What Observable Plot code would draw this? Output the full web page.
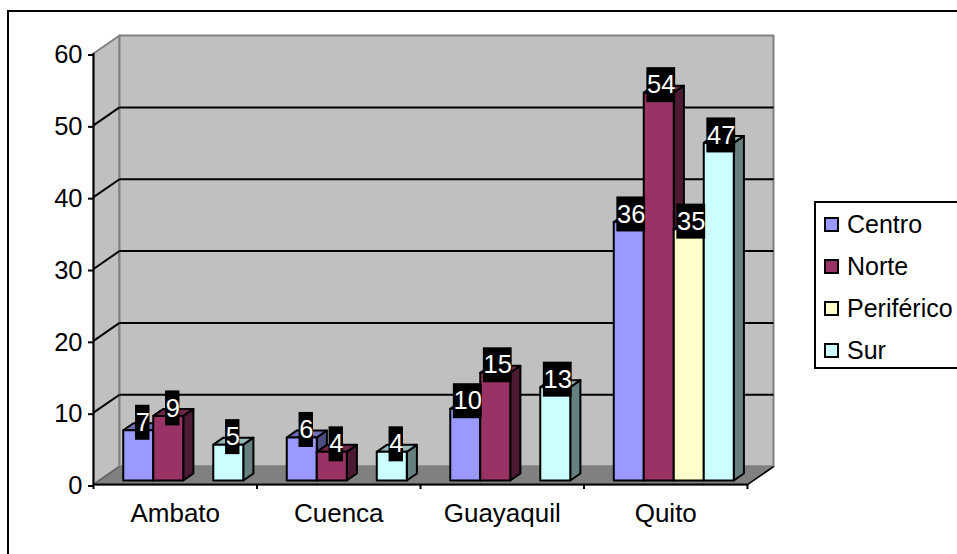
<!DOCTYPE html>
<html lang="es">
<head>
<meta charset="utf-8">
<script src="https://cdn.jsdelivr.net/npm/d3@7"></script>
<script src="https://cdn.jsdelivr.net/npm/@observablehq/plot@0.6"></script>
<style>
  html, body { margin: 0; padding: 0; background: #fff; overflow: hidden; }
  #page { position: relative; width: 957px; height: 554px; overflow: hidden; font-family: "Liberation Sans", Arial, sans-serif; color: #000; }
  #page svg { position: absolute; left: 0; top: 0; }
  #outline { position: absolute; left: 7px; top: 10px; width: 1000px; height: 600px; border: 2px solid #000; box-sizing: border-box; pointer-events: none; }
  #legend { position: absolute; left: 814px; top: 201px; width: 200px; height: 168px; border: 2px solid #000; box-sizing: border-box; background: #fff; }
  #legend .row { position: absolute; left: 0; height: 42px; display: flex; align-items: center; font-size: 25px; line-height: 1; white-space: nowrap; }
  #legend .swatch { display: inline-block; width: 15px; height: 15px; margin: 0 8px 0 8px; border: 2px solid #000; box-sizing: border-box; }
</style>
</head>
<body>
<div id="page">
  <div id="outline"></div>
  <div id="legend"></div>
</div>
<script>
// Survey counts per city and zone
const categories = ["Ambato", "Cuenca", "Guayaquil", "Quito"];
const centro = [7, 6, 10, 36];
const norte = [9, 4, 15, 54];
const periferico = [null, null, null, 35];
const sur = [5, 4, 13, 47];

const seriesNames = ["Centro", "Norte", "Periférico", "Sur"];
const seriesValues = [centro, norte, periferico, sur];
const seriesColors = ["#9999FF", "#993366", "#FFFFCC", "#CCFFFF"];
const yTicks = [0, 10, 20, 30, 40, 50, 60];

// Pixel size of one category and one value unit on the front plane
const pxPerCat = 163.5;
const pxPerVal = 7.183;

// Oblique projection: depth 0 is the front plane, depth 1 the back wall
const depthX = 26 / pxPerCat;   // in category units
const depthY = 2.5;             // in value units
const px = (cat, depth) => cat + depth * depthX;
const py = (val, depth) => val + depth * depthY;

const barWidth = 0.1835;
const groupGap = 0.147;
const barFront = 0.22;
const barBack = 0.61;

const shade = (color, k) => {
  const c = d3.rgb(color);
  return d3.rgb(c.r * k, c.g * k, c.b * k).formatHex();
};

// Walls and floor of the chart box
const maxV = yTicks[yTicks.length - 1];
const nCat = categories.length;
const walls = [
  {id: "side", color: "#C0C0C0", pts: [[0, 0, 0], [0, maxV, 0], [0, maxV, 1], [0, 0, 1]]},
  {id: "back", color: "#C0C0C0", pts: [[0, 0, 1], [0, maxV, 1], [nCat, maxV, 1], [nCat, 0, 1]]},
  {id: "floor", color: "#808080", pts: [[0, 0, 0], [nCat, 0, 0], [nCat, 0, 1], [0, 0, 1]]}
].flatMap(w => w.pts.map(([c, v, d]) => ({id: w.id, color: w.color, x: px(c, d), y: py(v, d)})));

// Three visible faces of each bar, drawn left to right so neighbours overlap correctly
const faces = [];
const labels = [];
categories.forEach((cat, i) => {
  seriesValues.forEach((values, s) => {
    const v = values[i];
    if (v == null) return;
    const x0 = i + groupGap + s * barWidth;
    const x1 = x0 + barWidth;
    const base = seriesColors[s];
    const id = `${cat}-${s}`;
    const quad = (name, color, pts) => pts.forEach(([c, val, d]) =>
      faces.push({id: `${id}-${name}`, color, x: px(c, d), y: py(val, d)}));
    quad("side", shade(base, 0.5), [[x1, 0, barFront], [x1, v, barFront], [x1, v, barBack], [x1, 0, barBack]]);
    quad("top", shade(base, 0.72), [[x0, v, barFront], [x1, v, barFront], [x1, v, barBack], [x0, v, barBack]]);
    quad("front", base, [[x0, 0, barFront], [x0, v, barFront], [x1, v, barFront], [x1, 0, barFront]]);
    // value tag sits just above the middle of the bar's top face
    const text = String(v);
    labels.push({
      text,
      x: px((x0 + x1) / 2, barFront) + (text.length > 1 ? 2.5 : 4.5) / pxPerCat,
      y: py(v, barFront) + 7.5 / pxPerVal
    });
  });
});

const boxHeight = 35 / pxPerVal;
const boxWidth = t => (t.length * 14.4) / pxPerCat;

const gridValues = yTicks.slice(1, -1);

const chart = Plot.plot({
  width: 957,
  height: 554,
  marginTop: 53, marginRight: 210, marginBottom: 70, marginLeft: 93,
  style: {background: "transparent", fontFamily: '"Liberation Sans", Arial, sans-serif', overflow: "visible"},
  x: {type: "linear", domain: [0, nCat], axis: null},
  y: {type: "linear", domain: [0, maxV], axis: null},
  color: {type: "identity"},
  marks: [
    Plot.line(walls, {x: "x", y: "y", z: "id", fill: "color", stroke: "#808080", strokeWidth: 2, curve: "linear-closed"}),
    // gridlines run across the side wall and along the back wall
    Plot.link(gridValues, {x1: 0, y1: d => d, x2: px(0, 1), y2: d => py(d, 1), stroke: "#000", strokeWidth: 2}),
    Plot.link(gridValues, {x1: px(0, 1), y1: d => py(d, 1), x2: px(nCat, 1), y2: d => py(d, 1), stroke: "#000", strokeWidth: 2}),
    // slanted floor edges: soft on the left, black on the right
    Plot.link([0], {x1: d => d, y1: 0, x2: d => px(d, 1), y2: py(0, 1), stroke: "#606060", strokeWidth: 1.5}),
    Plot.link([nCat], {x1: d => d, y1: 0, x2: d => px(d, 1), y2: py(0, 1), stroke: "#000", strokeWidth: 1.5}),
    Plot.line(faces, {x: "x", y: "y", z: "id", fill: "color", stroke: "#000", strokeWidth: 2, curve: "linear-closed", strokeLinejoin: "round"}),
    Plot.ruleX([0], {y1: 0, y2: maxV, stroke: "#000", strokeWidth: 2}),
    Plot.ruleY([0], {x1: 0, x2: nCat, stroke: "#000", strokeWidth: 2}),
    Plot.axisY({ticks: yTicks, tickSize: 5, tickPadding: 6, fontSize: 25.5, dy: 1.5, label: null, stroke: "#000", strokeWidth: 2, strokeOpacity: 1, fill: "#000"}),
    Plot.axisX({ticks: d3.range(nCat + 1), tickSize: 5, tickFormat: () => "", label: null, stroke: "#000", strokeWidth: 2, strokeOpacity: 1}),
    Plot.text(categories, {x: (d, i) => i + 0.5, y: 0, dy: 29, text: d => d, fontSize: 26, fill: "#000"}),
    Plot.rect(labels, {
      x1: d => d.x - boxWidth(d.text) / 2,
      x2: d => d.x + boxWidth(d.text) / 2,
      y1: d => d.y - boxHeight / 2,
      y2: d => d.y + boxHeight / 2,
      fill: "#000", inset: 0
    }),
    Plot.text(labels, {x: "x", y: "y", text: "text", fontSize: 25.5, fill: "#fff"})
  ]
});

const page = document.getElementById("page");
page.insertBefore(chart, page.firstChild);

// Legend keyed on the zone names
const legend = document.getElementById("legend");
seriesNames.forEach((name, i) => {
  const row = document.createElement("div");
  row.className = "row";
  row.style.top = `${0.5 + i * 42}px`;
  const sw = document.createElement("span");
  sw.className = "swatch";
  sw.style.background = seriesColors[i];
  row.appendChild(sw);
  row.appendChild(document.createTextNode(name));
  legend.appendChild(row);
});
</script>
</body>
</html>
